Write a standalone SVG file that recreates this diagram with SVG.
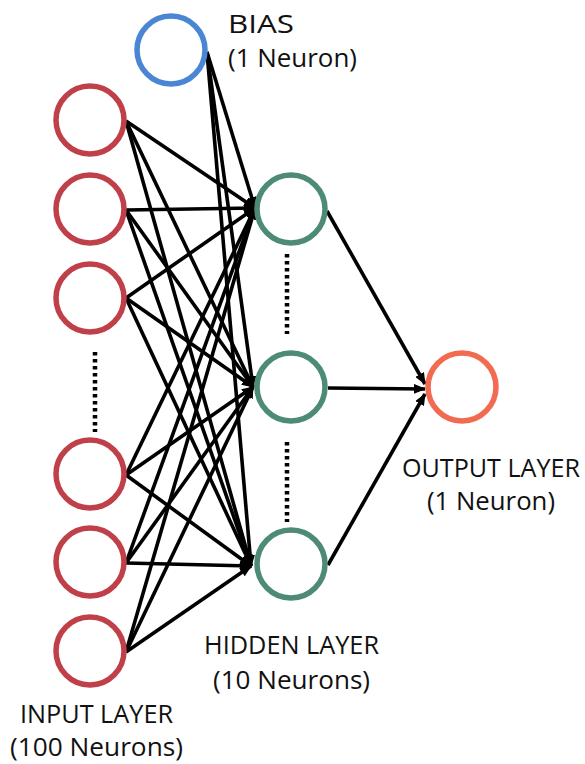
<svg xmlns="http://www.w3.org/2000/svg" width="585" height="764" viewBox="0 0 585 764">
<defs>
<marker id="ah" markerUnits="userSpaceOnUse" markerWidth="12" markerHeight="10" refX="11" refY="5" orient="auto">
<path d="M0,0 L12,5 L0,10 z" fill="#000"/>
</marker>
<style>
.c{fill:#fff;stroke-width:5.5}
.in{stroke:#c0404a}
.bi{stroke:#4a86d4}
.hi{stroke:#4d8b76}
.ou{stroke:#f26b50}
.e{stroke:#000;stroke-width:3.6;fill:none;marker-end:url(#ah)}
.d{stroke:#000;stroke-width:4.5;stroke-dasharray:3.5 3.5;fill:none}
.t{font-family:"Open Sans","Noto Sans","Liberation Sans",sans-serif;font-size:25px;fill:#111}
</style>
</defs>
<rect width="585" height="764" fill="#fff"/>
<g id="connectors">
<line class="e" x1="126" y1="121" x2="255" y2="208"/>
<line class="e" x1="126" y1="121" x2="253" y2="387"/>
<line class="e" x1="126" y1="121" x2="251" y2="566"/>
<line class="e" x1="126" y1="210" x2="255" y2="208"/>
<line class="e" x1="126" y1="210" x2="253" y2="387"/>
<line class="e" x1="126" y1="210" x2="251" y2="566"/>
<line class="e" x1="126" y1="298" x2="255" y2="208"/>
<line class="e" x1="126" y1="298" x2="253" y2="387"/>
<line class="e" x1="126" y1="298" x2="251" y2="566"/>
<line class="e" x1="126" y1="475" x2="255" y2="208"/>
<line class="e" x1="126" y1="475" x2="253" y2="387"/>
<line class="e" x1="126" y1="475" x2="251" y2="566"/>
<line class="e" x1="126" y1="563" x2="255" y2="208"/>
<line class="e" x1="126" y1="563" x2="253" y2="387"/>
<line class="e" x1="126" y1="563" x2="251" y2="566"/>
<line class="e" x1="126" y1="652" x2="255" y2="208"/>
<line class="e" x1="126" y1="652" x2="253" y2="387"/>
<line class="e" x1="126" y1="652" x2="251" y2="566"/>
<line class="e" x1="207" y1="52" x2="255" y2="208"/>
<line class="e" x1="207" y1="52" x2="253" y2="387"/>
<line class="e" x1="207" y1="52" x2="251" y2="566"/>
<line class="e" x1="327" y1="211" x2="425" y2="384"/>
<line class="e" x1="328" y1="388" x2="425" y2="389"/>
<line class="e" x1="328" y1="565" x2="425" y2="394"/>
<line class="d" x1="95" y1="352" x2="95" y2="432"/>
<line class="d" x1="287" y1="254" x2="287" y2="334"/>
<line class="d" x1="287" y1="442" x2="287" y2="522"/>
</g>
<g id="bias"><circle class="c bi" cx="171" cy="50" r="34"/></g>
<g id="input1"><circle class="c in" cx="90" cy="120" r="34"/></g>
<g id="input2"><circle class="c in" cx="90" cy="209" r="34"/></g>
<g id="input3"><circle class="c in" cx="90" cy="298" r="34"/></g>
<g id="input4"><circle class="c in" cx="90" cy="474" r="34"/></g>
<g id="input5"><circle class="c in" cx="90" cy="562" r="34"/></g>
<g id="input6"><circle class="c in" cx="90" cy="651" r="34"/></g>
<g id="hidden1"><circle class="c hi" cx="291" cy="209" r="34"/></g>
<g id="hidden2"><circle class="c hi" cx="291" cy="387" r="34"/></g>
<g id="hidden3"><circle class="c hi" cx="291" cy="564" r="34"/></g>
<g id="output"><circle class="c ou" cx="462" cy="387" r="34"/></g>
<g id="labels">
<text class="t" x="228" y="33" textLength="66" lengthAdjust="spacingAndGlyphs">BIAS</text>
<text class="t" x="228" y="67" textLength="129" lengthAdjust="spacingAndGlyphs">(1 Neuron)</text>
<text class="t" x="204" y="654" textLength="175" lengthAdjust="spacingAndGlyphs">HIDDEN LAYER</text>
<text class="t" x="213" y="689" textLength="157" lengthAdjust="spacingAndGlyphs">(10 Neurons)</text>
<text class="t" x="20" y="723" textLength="153" lengthAdjust="spacingAndGlyphs">INPUT LAYER</text>
<text class="t" x="10" y="756" textLength="173" lengthAdjust="spacingAndGlyphs">(100 Neurons)</text>
<text class="t" x="402" y="477" textLength="178" lengthAdjust="spacingAndGlyphs">OUTPUT LAYER</text>
<text class="t" x="427" y="510" textLength="128" lengthAdjust="spacingAndGlyphs">(1 Neuron)</text>
</g>
</svg>
